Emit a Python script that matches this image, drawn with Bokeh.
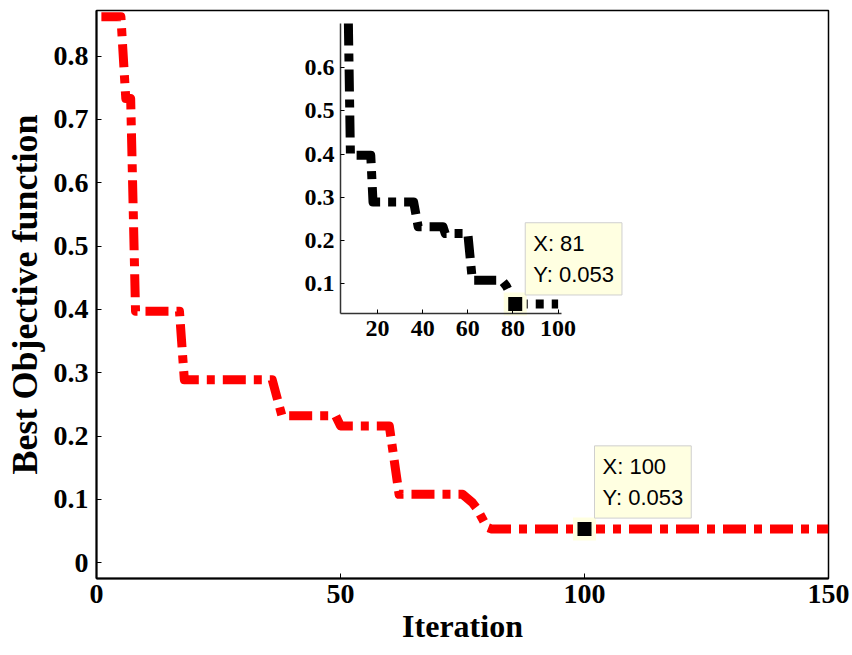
import numpy as np
from bokeh.plotting import figure
from bokeh.models import Range1d, LinearAxis, FixedTicker, Label
from bokeh.embed import file_html
from bokeh.resources import INLINE

# ---------------- data ----------------
iterations = [1, 5, 6, 7, 8, 17, 18, 36, 38, 49, 50, 60, 62, 75, 77, 78, 80, 81, 150]
best_obj = [0.862, 0.862, 0.733, 0.733, 0.397, 0.397, 0.289, 0.289, 0.232, 0.232,
            0.216, 0.216, 0.108, 0.108, 0.095, 0.085, 0.056, 0.053, 0.053]

x_ticks = [0, 50, 100, 150]
y_ticks = [0, 0.1, 0.2, 0.3, 0.4, 0.5, 0.6, 0.7, 0.8]
inset_x_ticks = [20, 40, 60, 80, 100]
inset_y_ticks = [0.1, 0.2, 0.3, 0.4, 0.5, 0.6]

tip_main = (100, 0.053)
tip_inset = (81, 0.053)

# ---------------- layout constants ----------------
W, H = 852, 655
L, R, T, B = 96, 828, 10, 578          # main frame in pixels
XLIM = (0, 150)
YLIM = (-0.025, 0.872)
# inset axes box (pixels) and its limits
IL, IR, IT, IB = 340, 561, 23, 313
IXLIM = (3.6, 101.5)
IYLIM = (0.031, 0.702)

# extra ranges so that the inset limits fall on the inset box
sx = (IR - IL) / (IXLIM[1] - IXLIM[0])
sy = (IB - IT) / (IYLIM[1] - IYLIM[0])
inset_xr = Range1d(IXLIM[0] - (IL - L) / sx, IXLIM[1] + (R - IR) / sx)
inset_yr = Range1d(IYLIM[0] - (B - IB) / sy, IYLIM[1] + (IT - T) / sy)

p = figure(width=W, height=H, output_backend="svg", toolbar_location=None,
           x_range=Range1d(*XLIM), y_range=Range1d(*YLIM),
           min_border_left=L, min_border_right=W - R, min_border_top=T,
           min_border_bottom=H - B)
p.extra_x_ranges = {"ix": inset_xr}
p.extra_y_ranges = {"iy": inset_yr}
p.grid.visible = False
p.background_fill_color = "white"
p.border_fill_color = "white"
p.outline_line_color = "black"
p.outline_line_width = 1.5

SERIF = "Liberation Serif"
for ax in (p.xaxis[0], p.yaxis[0]):
    ax.major_tick_in = 5
    ax.major_tick_out = 0
    ax.minor_tick_line_color = None
    ax.axis_line_color = "black"
    ax.axis_line_width = 2
    ax.major_tick_line_color = "black"
    ax.major_label_text_font = SERIF
    ax.major_label_text_font_style = "bold"
    ax.major_label_text_color = "black"
    ax.axis_label_text_font = SERIF
    ax.axis_label_text_font_style = "bold"
    ax.axis_label_text_color = "black"

p.xaxis[0].ticker = FixedTicker(ticks=x_ticks)
p.xaxis[0].major_label_text_font_size = "28px"
p.xaxis[0].major_label_standoff = 6
p.xaxis[0].axis_label = "Iteration"
p.xaxis[0].axis_label_text_font_size = "32px"
p.xaxis[0].axis_label_standoff = 2

p.yaxis[0].ticker = FixedTicker(ticks=y_ticks)
p.yaxis[0].major_label_overrides = {0: "0"}
p.yaxis[0].major_label_text_font_size = "28px"
p.yaxis[0].major_label_standoff = 8
p.yaxis[0].axis_label = "Best Objective function"
p.yaxis[0].axis_label_text_font_size = "36px"
p.yaxis[0].axis_label_standoff = 6

# main red curve
p.line(iterations, best_obj, line_color="red", line_width=9,
       line_dash="23 8 8 8", line_join="round")

# data tip on main curve
p.scatter([tip_main[0]], [tip_main[1]], marker="square", size=23,
          fill_color="#FFFFE1", line_color=None)
p.scatter([tip_main[0]], [tip_main[1]], marker="square", size=14,
          fill_color="black", line_color=None)
p.add_layout(Label(x=tip_main[0], y=tip_main[1], x_offset=10, y_offset=11,
                   text=f"X: {tip_main[0]}\nY: {tip_main[1]}",
                   text_font="Liberation Sans", text_font_size="22px",
                   text_color="black", text_align="left", text_baseline="bottom",
                   text_line_height=1.25, background_fill_color="#FFFFE1",
                   border_line_color="#CFCFCF", border_line_width=1, padding=8))

# ---------------- inset ----------------
ix = np.array(iterations, dtype=float)
iy = np.array(best_obj, dtype=float)
keep = ix <= 100
ix_in = list(ix[keep]) + [100.0]
iy_in = list(iy[keep]) + [float(np.interp(100, ix, iy))]
# clip the top of the curve to the inset's upper limit
ix_c, iy_c = [], []
for i in range(len(ix_in)):
    if iy_in[i] <= IYLIM[1]:
        if i > 0 and iy_in[i - 1] > IYLIM[1]:
            t = (iy_in[i - 1] - IYLIM[1]) / (iy_in[i - 1] - iy_in[i])
            ix_c.append(ix_in[i - 1] + t * (ix_in[i] - ix_in[i - 1]))
            iy_c.append(IYLIM[1])
        ix_c.append(ix_in[i])
        iy_c.append(iy_in[i])

p.line(ix_c, iy_c, line_color="black", line_width=9, line_dash="22 8 8 8",
       line_join="round", x_range_name="ix", y_range_name="iy")

iax = LinearAxis(x_range_name="ix", y_range_name="iy", fixed_location=IYLIM[0],
                 bounds=IXLIM, ticker=FixedTicker(ticks=inset_x_ticks))
iay = LinearAxis(x_range_name="ix", y_range_name="iy", fixed_location=IXLIM[0],
                 bounds=IYLIM, ticker=FixedTicker(ticks=inset_y_ticks))
for ax in (iax, iay):
    ax.major_tick_in = 4
    ax.major_tick_out = 0
    ax.minor_tick_line_color = None
    ax.axis_line_color = "#333333"
    ax.axis_line_width = 1.5
    ax.major_tick_line_color = "black"
    ax.major_label_text_font = SERIF
    ax.major_label_text_font_style = "bold"
    ax.major_label_text_font_size = "24px"
    ax.major_label_text_color = "black"
iax.major_label_standoff = 7
iay.major_label_standoff = 6
p.add_layout(iax, "below")
p.add_layout(iay, "left")

p.scatter([tip_inset[0]], [tip_inset[1]], marker="square", size=23,
          fill_color="#FFFFE1", line_color=None, x_range_name="ix", y_range_name="iy")
p.scatter([tip_inset[0]], [tip_inset[1]], marker="square", size=14,
          fill_color="black", line_color=None, x_range_name="ix", y_range_name="iy")
p.add_layout(Label(x=tip_inset[0], y=tip_inset[1], x_offset=10, y_offset=9,
                   x_range_name="ix", y_range_name="iy",
                   text=f"X: {tip_inset[0]}\nY: {tip_inset[1]}",
                   text_font="Liberation Sans", text_font_size="22px",
                   text_color="black", text_align="left", text_baseline="bottom",
                   text_line_height=1.25, background_fill_color="#FFFFE1",
                   border_line_color="#CFCFCF", border_line_width=1, padding=8))

open("out.html", "w").write(file_html(p, INLINE))
